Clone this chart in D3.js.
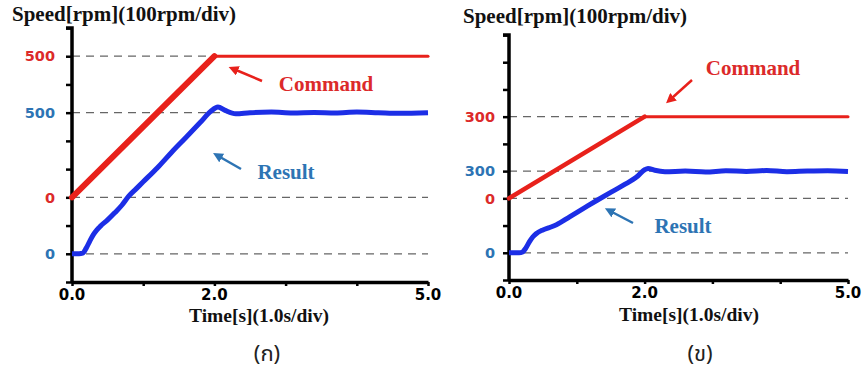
<!DOCTYPE html>
<html>
<head>
<meta charset="utf-8">
<script src="https://cdn.jsdelivr.net/npm/d3@7"></script>
<style>
  body { margin: 0; background: #fff; }
  svg { display: block; }
  .title { font-family: "Liberation Serif", "Times New Roman", serif; font-weight: bold; }
  .num { font-family: "DejaVu Sans", Verdana, sans-serif; font-weight: bold; }
</style>
</head>
<body>
<svg id="chart" width="866" height="371"></svg>
<script>
// ---- data ----
var yTitle = "Speed[rpm](100rpm/div)";
var xTitle = "Time[s](1.0s/div)";
var captions = ["(ก)", "(ข)"];
var xTickLabels = [0, 2, 5];

// panel (a)
var cmdTimeA = [0, 2, 5];
var cmdSpeedA = [0, 500, 500];
var resTimeA = [0, 0.1, 0.15, 0.2, 0.25, 0.3, 0.35, 0.4, 0.5, 0.6, 0.7, 0.8, 0.9, 1.0, 1.2, 1.4, 1.6, 1.8, 1.95, 2.05, 2.15, 2.3, 2.5, 2.8, 3.1, 3.4, 3.7, 4.0, 4.3, 4.6, 5.0];
var resSpeedA = [0, 0, 2, 20, 45, 68, 85, 98, 120, 145, 172, 205, 230, 255, 305, 360, 412, 465, 505, 520, 508, 496, 500, 502, 499, 501, 499, 502, 500, 498, 500];
var cmdLabelsA = [0, 500];
var resLabelsA = [0, 500];

// panel (b)
var cmdTimeB = [0, 2, 5];
var cmdSpeedB = [0, 300, 300];
var resTimeB = [0, 0.15, 0.2, 0.25, 0.3, 0.35, 0.4, 0.5, 0.6, 0.7, 0.9, 1.1, 1.3, 1.5, 1.7, 1.9, 2.0, 2.05, 2.15, 2.3, 2.6, 2.9, 3.2, 3.5, 3.8, 4.1, 4.4, 4.7, 5.0];
var resSpeedB = [0, 0, 3, 18, 40, 58, 70, 84, 93, 103, 133, 163, 193, 222, 250, 282, 305, 310, 303, 298, 300, 297, 301, 299, 302, 298, 300, 301, 299];
var cmdLabelsB = [0, 300];
var resLabelsB = [0, 300];

// command trace is drawn 2 divisions above the result trace
var cmdOffset = 200;

var cmdColor = "#e8211b";
var resColor = "#1c2ee6";
var cmdTextColor = "#dc2a2a";
var resTextColor = "#2d74b4";

var panels = [
  { x0: 72, x1: 428, yb: 282, yt: 28, gap: 17, rampW: 6,
    cmdT: cmdTimeA, cmdV: cmdSpeedA, resT: resTimeA, resV: resSpeedA,
    cmdL: cmdLabelsA, resL: resLabelsA,
    titleX: 12, titleY: 21, timeX: 259, timeY: 322, capX: 267,
    cmdText: [326, 91], cmdArrow: [[262, 81], [236, 70]],
    resText: [286, 179], resArrow: [[241, 169], [220, 157]] },
  { x0: 509, x1: 848, yb: 280, yt: 35, gap: 14, rampW: 4.5,
    cmdT: cmdTimeB, cmdV: cmdSpeedB, resT: resTimeB, resV: resSpeedB,
    cmdL: cmdLabelsB, resL: resLabelsB,
    titleX: 463, titleY: 23, timeX: 689, timeY: 321, capX: 700,
    cmdText: [753, 75], cmdArrow: [[692, 80], [672, 98]],
    resText: [683, 233], resArrow: [[633, 223], [612, 212]] }
];

var svg = d3.select("#chart");

var defs = svg.append("defs");
[["arrRed", cmdColor], ["arrBlue", resTextColor]].forEach(function(m) {
  defs.append("marker")
    .attr("id", m[0])
    .attr("viewBox", "0 0 10 10")
    .attr("refX", 2).attr("refY", 5)
    .attr("markerWidth", 4).attr("markerHeight", 4)
    .attr("orient", "auto")
    .append("path")
    .attr("d", "M0,0 L10,5 L0,10 z")
    .attr("fill", m[1]);
});

panels.forEach(function(p) {
  var g = svg.append("g");

  var x = d3.scaleLinear().domain([0, 5]).range([p.x0, p.x1]);
  var y = d3.scaleLinear().domain([-100, 800]).range([p.yb, p.yt]);

  // dashed reference lines
  var refs = p.cmdL.map(function(v) { return { v: v + cmdOffset, label: v, color: cmdTextColor }; })
    .concat(p.resL.map(function(v) { return { v: v, label: v, color: resTextColor }; }));

  g.selectAll(".ref").data(refs).enter().append("line")
    .attr("x1", p.x0).attr("x2", p.x1)
    .attr("y1", d => y(d.v)).attr("y2", d => y(d.v))
    .attr("stroke", "#666").attr("stroke-width", 1.2)
    .attr("stroke-dasharray", "8,6");

  g.selectAll(".ylab").data(refs).enter().append("text")
    .attr("class", "num")
    .attr("x", p.x0 - p.gap)
    .attr("y", d => y(d.v))
    .attr("dy", "0.36em")
    .attr("text-anchor", "end")
    .attr("font-size", 14.5)
    .attr("fill", d => d.color)
    .text(d => d.label);

  // axes
  var yAxis = d3.axisLeft(y).tickValues(d3.range(-100, 801, 100)).tickSize(6).tickFormat("");
  g.append("g").attr("transform", "translate(" + p.x0 + ",0)").call(yAxis)
    .call(a => a.select(".domain").attr("stroke-width", 3.5).attr("d", "M-6," + p.yt + "H0V" + p.yb))
    .call(a => a.selectAll(".tick line").attr("stroke-width", 2.5));

  var xAxis = d3.axisBottom(x).tickValues(d3.range(0, 6)).tickSize(4).tickSizeOuter(0).tickFormat("");
  g.append("g").attr("transform", "translate(0," + p.yb + ")").call(xAxis)
    .call(a => a.select(".domain").attr("stroke-width", 3.5))
    .call(a => a.selectAll(".tick line").attr("stroke-width", 2.5));

  g.selectAll(".xlab").data(xTickLabels).enter().append("text")
    .attr("class", "num")
    .attr("x", d => x(d))
    .attr("y", p.yb + 18)
    .attr("text-anchor", "middle")
    .attr("font-size", 15)
    .text(d => d.toFixed(1));

  // command trace, ramp drawn heavier than the flat part
  var cmdPts = p.cmdT.map((t, i) => [t, p.cmdV[i] + cmdOffset]);
  var segs = d3.pairs(cmdPts);
  g.selectAll(".cmd").data(segs).enter().append("line")
    .attr("x1", d => x(d[0][0])).attr("y1", d => y(d[0][1]))
    .attr("x2", d => x(d[1][0])).attr("y2", d => y(d[1][1]))
    .attr("stroke", cmdColor)
    .attr("stroke-linecap", "round")
    .attr("stroke-width", d => d[0][1] !== d[1][1] ? p.rampW : 3);

  // result trace
  var resPts = p.resT.map((t, i) => [t, p.resV[i]]);
  var line = d3.line().x(d => x(d[0])).y(d => y(d[1])).curve(d3.curveMonotoneX);
  g.append("path")
    .attr("d", line(resPts))
    .attr("fill", "none")
    .attr("stroke", resColor)
    .attr("stroke-width", 5)
    .attr("stroke-linejoin", "round");

  // annotations
  g.append("text").attr("class", "title")
    .attr("x", p.cmdText[0]).attr("y", p.cmdText[1])
    .attr("text-anchor", "middle").attr("font-size", 21)
    .attr("fill", cmdTextColor).text("Command");
  g.append("line")
    .attr("x1", p.cmdArrow[0][0]).attr("y1", p.cmdArrow[0][1])
    .attr("x2", p.cmdArrow[1][0]).attr("y2", p.cmdArrow[1][1])
    .attr("stroke", cmdColor).attr("stroke-width", 2.5)
    .attr("marker-end", "url(#arrRed)");

  g.append("text").attr("class", "title")
    .attr("x", p.resText[0]).attr("y", p.resText[1])
    .attr("text-anchor", "middle").attr("font-size", 21)
    .attr("fill", resTextColor).text("Result");
  g.append("line")
    .attr("x1", p.resArrow[0][0]).attr("y1", p.resArrow[0][1])
    .attr("x2", p.resArrow[1][0]).attr("y2", p.resArrow[1][1])
    .attr("stroke", resTextColor).attr("stroke-width", 2.5)
    .attr("marker-end", "url(#arrBlue)");

  // titles
  g.append("text").attr("class", "title")
    .attr("x", p.titleX).attr("y", p.titleY)
    .attr("font-size", 21).attr("fill", "#111").text(yTitle);
  g.append("text").attr("class", "title")
    .attr("x", p.timeX).attr("y", p.timeY)
    .attr("text-anchor", "middle")
    .attr("font-size", 19.5).attr("fill", "#111").text(xTitle);
});

svg.selectAll(".cap").data(captions).enter().append("text")
  .attr("x", (d, i) => panels[i].capX)
  .attr("y", 361)
  .attr("text-anchor", "middle")
  .attr("font-family", "Tahoma, 'Noto Sans Thai', 'DejaVu Sans', sans-serif")
  .attr("font-size", 22)
  .attr("fill", "#222")
  .text(d => d);
</script>
</body>
</html>
